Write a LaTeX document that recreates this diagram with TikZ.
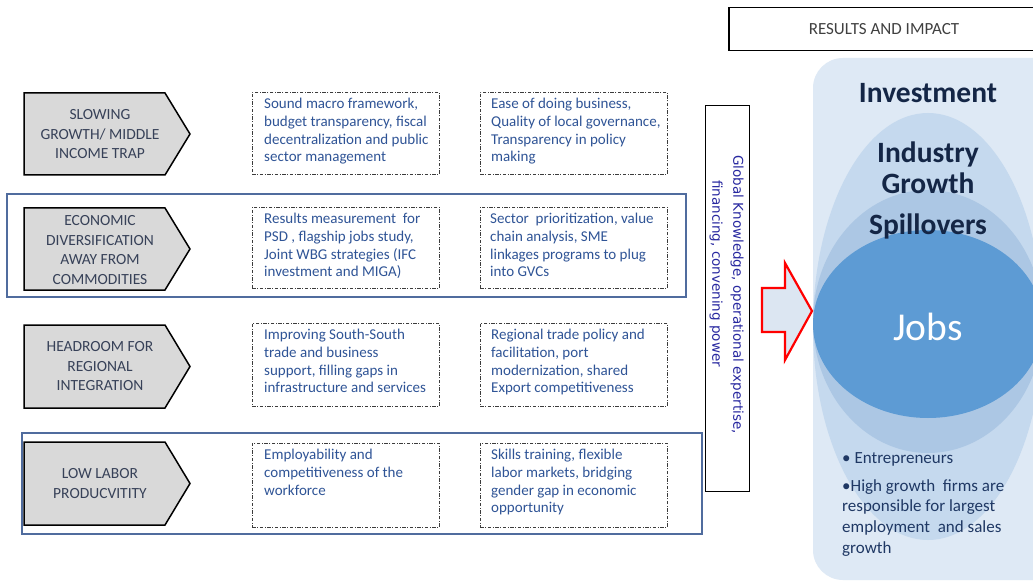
\documentclass[tikz,border=0pt]{standalone}
\usepackage{fontspec}
\setmainfont{Carlito}
\newfontfamily\dejavu{DejaVu Sans}
\definecolor{chevgray}{RGB}{217,217,217}
\definecolor{chevtxt}{RGB}{55,65,88}
\definecolor{dashgray}{RGB}{60,60,60}
\definecolor{txtblue}{RGB}{47,84,150}
\definecolor{rowblue}{RGB}{80,108,158}
\definecolor{gkblue}{RGB}{40,40,160}
\definecolor{investbg}{RGB}{222,233,245}
\definecolor{indcol}{RGB}{197,217,238}
\definecolor{spillcol}{RGB}{172,199,228}
\definecolor{jobscol}{RGB}{93,155,212}
\definecolor{navy}{RGB}{20,38,70}
\definecolor{bullettxt}{RGB}{31,56,100}
\definecolor{arrowfill}{RGB}{220,230,242}
\definecolor{restxt}{RGB}{64,64,64}
\begin{document}
\begin{tikzpicture}[x=1pt,y=-1pt,
  chev/.style={draw=black, line width=1.5pt, fill=chevgray, line join=miter},
  chevtext/.style={align=center, text=chevtxt, font=\fontsize{15.5}{19.5}\selectfont, inner sep=0pt},
  dbox/.style={draw=dashgray, line width=0.9pt, dash pattern=on 3.5pt off 1.5pt on 1pt off 1.5pt, minimum width=187pt, inner sep=0pt, anchor=north west},
  btext/.style={align=left, text=txtblue, font=\fontsize{15}{17.7}\selectfont, inner sep=0pt, anchor=north west},
  rowrect/.style={draw=rowblue, line width=1.8pt},
  bigword/.style={text=navy, font=\fontsize{29.5}{31}\selectfont\bfseries, align=center, inner sep=0pt},
  bullet/.style={text=bullettxt, font=\fontsize{17}{20.7}\selectfont, align=left, inner sep=0pt, anchor=west}
]
\clip (0,0) rectangle (1033,588);
\fill[white] (0,0) rectangle (1033,588);

% row highlight rectangles
\draw[rowrect] (7,194) rectangle (686,297);
\draw[rowrect] (22,433) rectangle (702,534);

% chevrons
\draw[chev] (24,93) -- (165,93) -- (190,134) -- (165,175) -- (24,175) -- cycle;
\draw[chev] (24,208) -- (165,208) -- (190,249) -- (165,290) -- (24,290) -- cycle;
\draw[chev] (24,325) -- (165,325) -- (190,366.5) -- (165,408) -- (24,408) -- cycle;
\draw[chev] (24,442) -- (165,442) -- (190,483.5) -- (165,525) -- (24,525) -- cycle;
\node[chevtext] (c1) at (100,134.5) {SLOWING\\GROWTH/ MIDDLE\\INCOME TRAP};
\node[chevtext] (c2) at (100,250) {ECONOMIC\\DIVERSIFICATION\\AWAY FROM\\COMMODITIES};
\node[chevtext] (c3) at (100,366.5) {HEADROOM FOR\\REGIONAL\\INTEGRATION};
\node[chevtext] (c4) at (100,483.5) {LOW LABOR\\PRODUCVITITY};

% dashed boxes
\node[dbox, minimum height=82pt] (b11) at (252,92) {};
\node[dbox, minimum height=82pt] (b12) at (480,92) {};
\node[dbox, minimum height=81pt] (b21) at (252,207) {};
\node[dbox, minimum height=81pt] (b22) at (480,207) {};
\node[dbox, minimum height=83pt] (b31) at (252,323) {};
\node[dbox, minimum height=83pt] (b32) at (480,323) {};
\node[dbox, minimum height=84pt] (b41) at (252,443) {};
\node[dbox, minimum height=84pt] (b42) at (480,443) {};

\node[btext] (t11) at ([xshift=12pt,yshift=-6pt]b11.north west) {Sound macro framework,\\budget transparency, fiscal\\decentralization and public\\sector management};
\node[btext] (t12) at ([xshift=11pt,yshift=-6pt]b12.north west) {Ease of doing business,\\Quality of local governance,\\Transparency in policy\\making};
\node[btext] (t21) at ([xshift=12pt,yshift=-6pt]b21.north west) {Results measurement\ \ for\\PSD , flagship jobs study,\\Joint WBG strategies (IFC\\investment and MIGA)};
\node[btext] (t22) at ([xshift=10pt,yshift=-6pt]b22.north west) {Sector\ \ prioritization, value\\chain analysis, SME\\linkages programs to plug\\into GVCs};
\node[btext] (t31) at ([xshift=12pt,yshift=-6pt]b31.north west) {Improving South-South\\trade and business\\support, filling gaps in\\infrastructure and services};
\node[btext] (t32) at ([xshift=11pt,yshift=-6pt]b32.north west) {Regional trade policy and\\facilitation, port\\modernization, shared\\Export competitiveness};
\node[btext] (t41) at ([xshift=12pt,yshift=-6pt]b41.north west) {Employability and\\competitiveness of the\\workforce};
\node[btext] (t42) at ([xshift=11pt,yshift=-6pt]b42.north west) {Skills training, flexible\\labor markets, bridging\\gender\ gap in economic\\opportunity};

% global knowledge box
\node[draw=black, line width=1pt, minimum width=44pt, minimum height=386pt, inner sep=0pt, anchor=north west] (gk) at (705,105) {};
\node[rotate=-90, text=gkblue, font=\dejavu\fontsize{13.5}{21}\selectfont, align=left, inner sep=0pt] (gkt) at ([xshift=-1pt,yshift=4pt]gk.center) {Global Knowledge, operational expertise,\\\hspace*{25pt}financing, convening power};

% results and impact
\node[draw=black, line width=1.5pt, minimum width=312pt, minimum height=43pt, inner sep=0pt, anchor=north west] (res) at (728,7) {};
\node[text=restxt, font=\fontsize{17}{19}\selectfont, inner sep=0pt] (rest) at (884,29) {RESULTS AND IMPACT};

% impact layers
\fill[investbg, rounded corners=30pt] (813,58) rectangle (1090,580);
\fill[indcol] (928,326.5) ellipse [x radius=115pt, y radius=213.5pt];
\fill[spillcol] (928,321.5) ellipse [x radius=115pt, y radius=131.5pt];
\fill[jobscol] (928,324) ellipse [x radius=115pt, y radius=94pt];

\node[bigword] (inv) at (928,93) {Investment};
\node[bigword] (ind) at (928,167.5) {Industry\\Growth};
\node[bigword] (spl) at (928,226) {Spillovers};
\node[text=white, font=\fontsize{39.5}{42}\selectfont, inner sep=0pt] (jobs) at (928,327) {Jobs};

\node[bullet] (ent) at (842,459) {\textbullet\ Entrepreneurs};
\node[bullet, anchor=north west] (hgf) at (842,479) {\textbullet High growth\ \ firms are\\responsible for largest\\employment\ \ and sales\\growth};

% red arrow
\draw[red, line width=2.2pt, fill=arrowfill, line join=miter] (762,288) -- (785,288) -- (785,263) -- (812,311) -- (785,360) -- (785,332) -- (762,332) -- cycle;
\end{tikzpicture}
\end{document}
